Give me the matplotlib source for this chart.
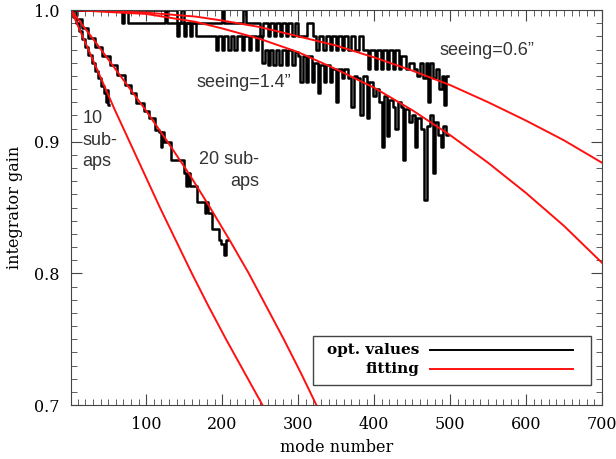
import numpy as np
import matplotlib
matplotlib.use('Agg')
import matplotlib.pyplot as plt
from matplotlib.ticker import MultipleLocator, FixedLocator

# ---- optimized gains (step data): (run start mode, gain value) ----
opt10 = [(1, 1.0), (4, 0.995), (8, 0.99), (12, 0.984), (16, 0.978),
         (20, 0.972), (24, 0.966), (28, 0.96), (32, 0.954), (36, 0.948),
         (40, 0.942), (44, 0.937), (47, 0.93), (48, 0.939), (50, 0.928),
         (51, 0.928)]

opt20 = [(1, 1.0), (8, 0.993), (16, 0.986), (24, 0.979), (33, 0.972),
         (42, 0.965), (52, 0.958), (62, 0.951), (72, 0.943), (80, 0.937),
         (87, 0.929), (97, 0.923), (104, 0.918), (112, 0.909), (117, 0.907),
         (119, 0.896), (121, 0.907), (124, 0.9), (133, 0.886), (150, 0.876),
         (152, 0.866), (155, 0.876), (157, 0.866), (167, 0.854), (177, 0.846),
         (179, 0.854), (181, 0.846), (187, 0.834), (196, 0.825), (199, 0.822),
         (203, 0.814), (205, 0.825), (208, 0.825)]

opt06 = [(1, 1.0), (68, 0.99), (71, 1.0), (140, 0.99), (146, 1.0), (150, 0.99),
         (200, 1.0), (203, 0.99), (228, 1.0), (231, 0.99), (250, 0.98),
         (254, 0.99), (260, 0.98), (263, 0.99), (268, 0.98), (271, 0.99),
         (276, 0.98), (279, 0.99), (284, 0.98), (287, 0.99), (292, 0.98),
         (296, 0.99), (300, 0.98), (312, 0.99), (319, 0.98), (324, 0.97),
         (327, 0.98), (333, 0.97), (336, 0.98), (342, 0.97), (345, 0.98),
         (350, 0.97), (353, 0.98), (358, 0.97), (361, 0.98), (366, 0.97),
         (369, 0.98), (375, 0.97), (380, 0.98), (385, 0.97), (392, 0.955),
         (395, 0.97), (401, 0.955), (404, 0.97), (409, 0.955), (412, 0.97),
         (417, 0.955), (420, 0.97), (425, 0.955), (428, 0.97), (433, 0.955),
         (436, 0.965), (442, 0.955), (446, 0.96), (452, 0.955), (456, 0.95),
         (460, 0.96), (464, 0.948), (468, 0.96), (471, 0.93), (473, 0.96),
         (478, 0.948), (482, 0.955), (486, 0.94), (489, 0.95), (492, 0.928),
         (495, 0.95), (497, 0.95)]

opt14 = [(1, 1.0), (76, 0.99), (125, 1.0), (128, 0.99), (140, 0.98),
         (143, 0.99), (150, 0.98), (153, 0.99), (157, 0.98), (160, 0.99),
         (166, 0.98), (192, 0.97), (195, 0.98), (200, 0.97), (203, 0.98),
         (208, 0.97), (211, 0.98), (216, 0.97), (220, 0.98), (226, 0.97),
         (229, 0.98), (235, 0.97), (238, 0.98), (244, 0.97), (247, 0.98),
         (253, 0.96), (256, 0.97), (260, 0.958), (263, 0.97), (267, 0.958),
         (271, 0.97), (275, 0.958), (279, 0.97), (284, 0.958), (287, 0.97),
         (292, 0.958), (296, 0.968), (300, 0.965), (303, 0.945), (306, 0.965),
         (310, 0.945), (313, 0.965), (318, 0.945), (321, 0.96), (326, 0.937),
         (329, 0.958), (334, 0.945), (337, 0.958), (342, 0.945), (345, 0.955),
         (350, 0.93), (353, 0.955), (358, 0.948), (361, 0.955), (366, 0.948),
         (370, 0.926), (373, 0.95), (378, 0.948), (382, 0.92), (385, 0.95),
         (390, 0.918), (393, 0.945), (398, 0.935), (402, 0.94), (406, 0.93),
         (410, 0.896), (413, 0.935), (417, 0.904), (420, 0.932), (425, 0.926),
         (428, 0.91), (431, 0.93), (435, 0.926), (438, 0.886), (441, 0.925),
         (446, 0.915), (450, 0.92), (454, 0.896), (457, 0.918), (462, 0.91),
         (466, 0.856), (469, 0.912), (473, 0.92), (477, 0.876), (480, 0.915),
         (484, 0.905), (488, 0.896), (491, 0.912), (495, 0.905), (497, 0.905)]

# ---- fitted curves ----
fx10 = [1, 20, 39, 58, 78, 98, 118, 139, 160, 182, 205, 229, 253]
fy10 = [1.0, 0.975, 0.95, 0.925, 0.9, 0.875, 0.85, 0.825, 0.8, 0.775, 0.75,
        0.725, 0.7]
fx20 = [1, 34, 66, 98, 128, 157, 184, 210, 235, 258, 281, 303, 324]
fy20 = [1.0, 0.975, 0.95, 0.925, 0.9, 0.875, 0.85, 0.825, 0.8, 0.775,
        0.75, 0.725, 0.7]
fx14 = [1, 100, 165, 200, 250, 300, 350, 400, 450, 500, 550, 600, 650, 700]
fy14 = [1.0, 0.997, 0.991, 0.986, 0.978, 0.968, 0.955, 0.941, 0.924, 0.905,
        0.884, 0.861, 0.836, 0.808]
fx06 = [1, 100, 165, 200, 250, 300, 350, 400, 450, 500, 550, 600, 650, 700]
fy06 = [1.0, 0.998, 0.995, 0.992, 0.987, 0.98, 0.973, 0.964, 0.954, 0.943,
        0.93, 0.916, 0.901, 0.884]

serif = 'DejaVu Serif'
sans = 'Liberation Sans'

fig = plt.figure(figsize=(6.16, 4.59), dpi=100)
ax = fig.add_axes([0.1153, 0.1176, 0.862, 0.8606])

for run in [opt10, opt20, opt06, opt14]:
    xs, gs = zip(*run)
    ax.step(xs, gs, where='post', color='black', lw=1.8)

for fx, fy in [(fx10, fy10), (fx20, fy20), (fx14, fy14), (fx06, fy06)]:
    ax.plot(fx, fy, color='#ff1010', lw=1.4)

ax.set_xlim(1, 700)
ax.set_ylim(0.7, 1.0)
ax.xaxis.set_major_locator(FixedLocator([100, 200, 300, 400, 500, 600, 700]))
ax.xaxis.set_minor_locator(MultipleLocator(10))
ax.yaxis.set_major_locator(MultipleLocator(0.1))
ax.yaxis.set_minor_locator(MultipleLocator(0.01))
ax.tick_params(which='both', direction='in', top=True, right=True,
               color='#444444', labelsize=11.5, pad=8)
ax.tick_params(which='major', length=8)
ax.tick_params(which='minor', length=4)
for lab in ax.get_xticklabels() + ax.get_yticklabels():
    lab.set_family(serif)
for s in ax.spines.values():
    s.set_color('#444444')

ax.set_xlabel('mode number', family=serif, fontsize=11.5, labelpad=4)
ax.set_ylabel('integrator gain', family=serif, fontsize=11.5, labelpad=8)

ax.text(549, 0.9696, 'seeing=0.6\u201d', family=sans, fontsize=13,
        color='#333333', ha='center', va='center')
ax.text(229, 0.9446, 'seeing=1.4\u201d', family=sans, fontsize=13,
        color='#333333', ha='center', va='center')
ax.text(16, 0.901, '10\nsub-\naps', family=sans, fontsize=13, color='#333333',
        ha='left', va='center', linespacing=1.35)
ax.text(249, 0.878, '20 sub-\naps', family=sans, fontsize=13,
        color='#333333', ha='right', va='center', multialignment='right',
        linespacing=1.35)

# legend box drawn by hand (labels left of lines)
lx0, ly0, lx1, ly1 = 0.455, 0.05, 0.98, 0.175
ax.add_patch(plt.Rectangle((lx0, ly0), lx1 - lx0, ly1 - ly0,
                           transform=ax.transAxes, fill=False,
                           edgecolor='#444444', lw=1))
ax.text(0.656, 0.14, 'opt. values', transform=ax.transAxes, family=serif,
        fontweight='bold', fontsize=11, ha='right', va='center')
ax.text(0.656, 0.09, 'fitting', transform=ax.transAxes, family=serif,
        fontweight='bold', fontsize=11, ha='right', va='center')
ax.plot([0.676, 0.945], [0.14, 0.14], transform=ax.transAxes,
        color='black', lw=1.4)
ax.plot([0.676, 0.945], [0.09, 0.09], transform=ax.transAxes,
        color='#ff1010', lw=1.4)

fig.savefig('out.png', dpi=100)
